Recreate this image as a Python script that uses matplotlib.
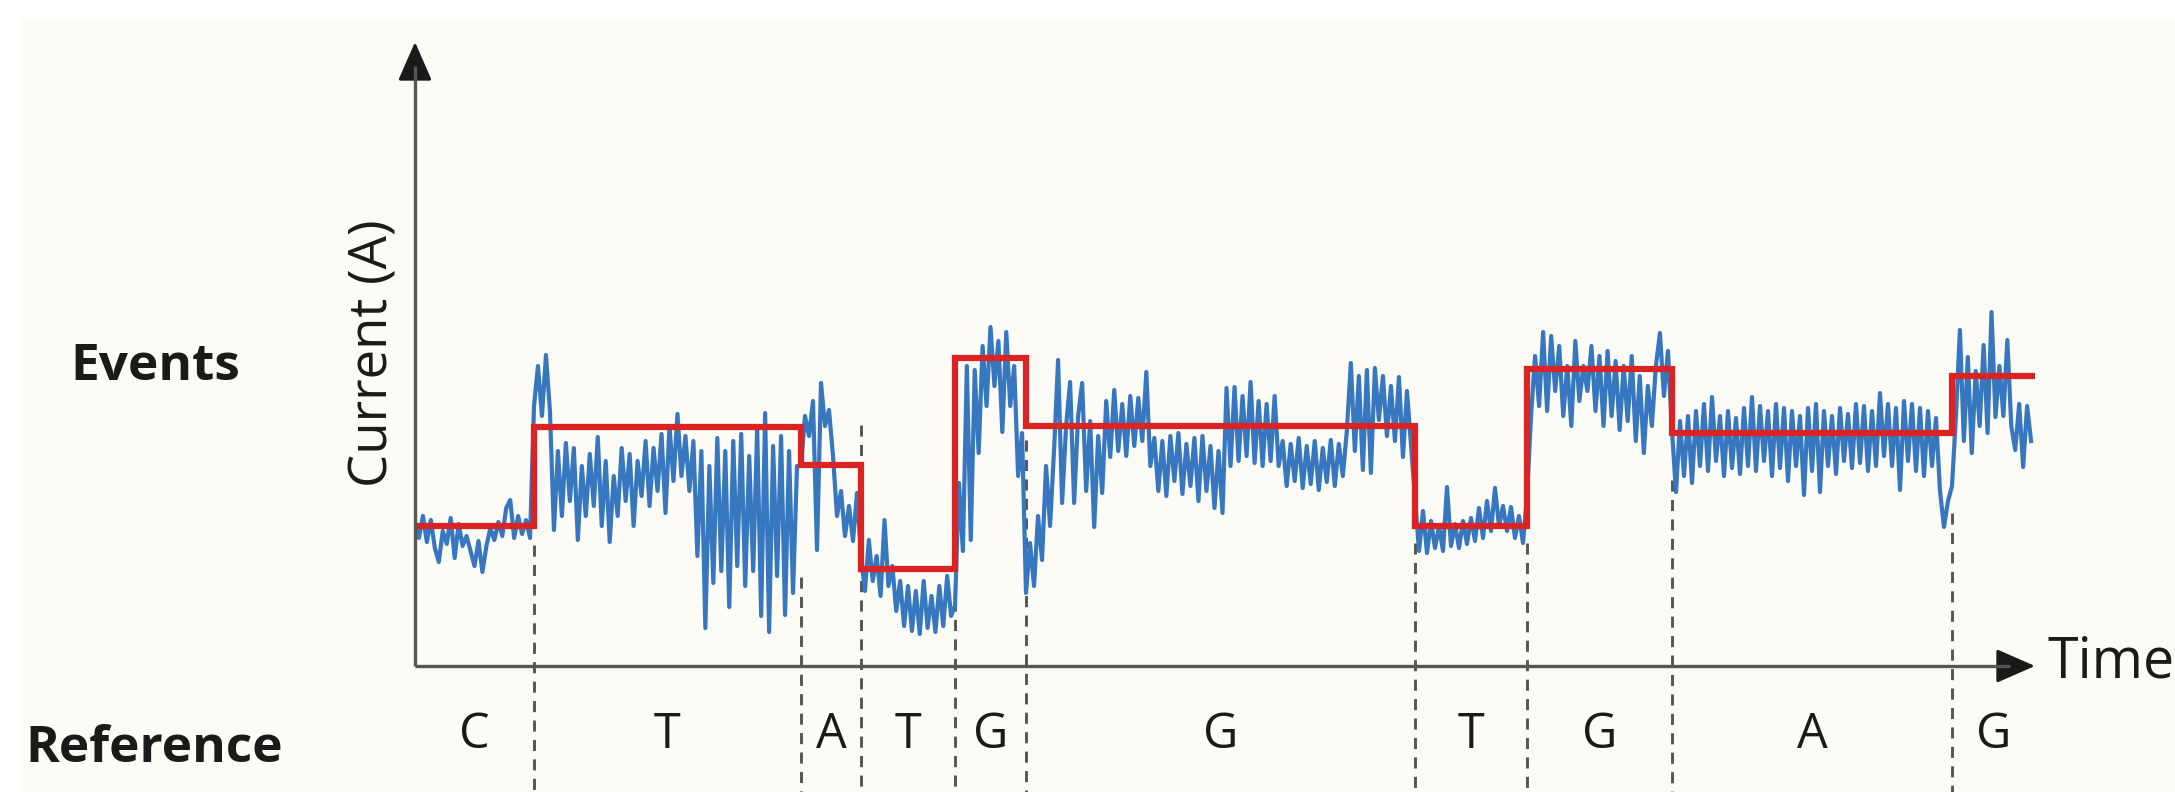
import matplotlib
matplotlib.use('Agg')
import matplotlib.pyplot as plt
from matplotlib.patches import Rectangle
import numpy as np

plt.rcParams['font.family'] = ['Open Sans', 'DejaVu Sans']
plt.rcParams['lines.scale_dashes'] = False

# Bases da referência e limites dos eventos (eixo do tempo)
bases = ['C', 'T', 'A', 'T', 'G', 'G', 'T', 'G', 'A', 'G']
limites = [0, 119, 386, 446, 540, 611, 1000, 1112, 1257, 1537, 1620]
# Nível médio de cada evento (linha vermelha)
niveis = [140, 239, 201, 97, 308, 240, 140, 297, 233, 290]
# Altura onde começa cada linha tracejada (limites internos)
topo_tracejado = [121, 89, 241, 66, 226, 123, 123, 186, 153]

# Sinal bruto, um trecho por evento
sig_C = [140, 128, 150, 124, 146, 118, 104, 135, 122, 148,
         108, 142, 120, 130, 115, 100, 125, 94, 120, 138,
         126, 144, 130, 158, 166, 128, 150, 132, 146, 128]
sig_T1 = [260, 300, 250, 311, 255, 136, 215, 150, 223, 165,
          218, 126, 200, 150, 212, 160, 229, 140, 205, 124,
          190, 150, 218, 165, 212, 140, 205, 170, 225, 160,
          218, 175, 232, 153, 240, 185, 252, 190, 230, 175,
          225, 110, 215, 38, 200, 83, 228, 95, 215, 59,
          225, 100, 232, 80, 210, 95, 238, 50, 253, 34,
          220, 90, 230, 51, 215, 73, 200]
sig_A1 = [200, 250, 230, 265, 116, 283, 240, 256, 210, 150, 175, 130, 160, 125, 173]
sig_T2 = [110, 75, 126, 85, 110, 70, 146, 80, 100, 55,
          85, 40, 80, 35, 75, 32, 85, 38, 70, 34,
          80, 40, 90, 50]
sig_G1 = [60, 183, 115, 300, 126, 296, 213, 320, 260, 339,
          280, 325, 234, 334, 260, 300, 190, 233]
sig_G2 = [73, 123, 80, 150, 106, 200, 140, 216, 306, 163,
          240, 284, 163, 250, 283, 175, 245, 139, 230, 173,
          265, 209, 276, 215, 262, 210, 270, 220, 268, 225,
          294, 200, 228, 175, 225, 170, 230, 185, 233, 172,
          222, 180, 228, 165, 230, 175, 220, 158, 215, 153,
          278, 200, 279, 205, 270, 210, 284, 203, 265, 200,
          262, 205, 270, 200, 225, 180, 222, 185, 228, 178,
          220, 182, 225, 176, 218, 184, 226, 180, 222, 190,
          235, 303, 215, 290, 196, 296, 193, 298, 246, 290,
          230, 280, 225, 289, 209, 275, 222]
sig_T3 = [169, 115, 155, 113, 145, 118, 140, 115, 179, 120,
          142, 118, 145, 122, 148, 125, 158, 128, 165, 135,
          178, 140, 160, 135, 159, 128, 150, 123]
sig_G3 = [170, 250, 310, 260, 334, 255, 330, 275, 320, 250,
          300, 240, 325, 265, 300, 275, 320, 255, 310, 240,
          315, 250, 305, 236, 300, 245, 310, 225, 290, 213,
          280, 240, 300, 333, 270, 315]
sig_A2 = [235, 174, 245, 190, 250, 183, 255, 200, 262, 195,
          269, 205, 250, 190, 255, 198, 248, 192, 258, 200,
          269, 195, 260, 205, 255, 190, 262, 198, 258, 185,
          255, 200, 250, 171, 258, 195, 262, 174, 255, 200,
          250, 192, 258, 205, 252, 198, 262, 203, 260, 195,
          255, 200, 273, 210, 262, 200, 258, 176, 265, 205,
          262, 195, 258, 190, 255, 200, 248, 175, 139, 165]
sig_G4 = [180, 250, 336, 225, 309, 213, 295, 240, 321, 233,
          354, 249, 300, 250, 326, 240, 216, 262, 199, 260, 225]

trechos = [sig_C, sig_T1, sig_A1, sig_T2, sig_G1, sig_G2, sig_T3, sig_G3, sig_A2, sig_G4]

W, H = 2175, 792
fig = plt.figure(figsize=(W / 100, H / 100), dpi=100, facecolor='white')
# Fundo creme (com faixa branca no topo e à esquerda)
fig.patches.append(Rectangle((20 / W, 0), 1, 1 - 18 / H, transform=fig.transFigure,
                             facecolor='#FCFBF6', edgecolor='none', zorder=-10))

ax = fig.add_axes([415 / W, 126 / H, 1620 / W, 624 / H])
ax.set_xlim(0, 1620)
ax.set_ylim(0, 624)
ax.axis('off')

azul = '#3777BF'
vermelho = '#DA2323'

# Sinal
xs, ys = [], []
for i, vals in enumerate(trechos):
    xs.append(np.linspace(limites[i], limites[i + 1], len(vals), endpoint=False))
    ys.append(vals)
x = np.concatenate(xs)
y = np.concatenate(ys)
ax.plot(x, y, color=azul, lw=3.0, zorder=3)

# Eventos (degraus)
ax.stairs(niveis, limites, baseline=None, color=vermelho, lw=4.5, zorder=4)

# Linhas tracejadas entre as bases
for xb, yt in zip(limites[1:-1], topo_tracejado):
    ax.plot([xb, xb], [yt, -140], color='#555555', lw=2.1, dashes=(8, 6),
            clip_on=False, zorder=2)

# Eixos com setas
cinza = '#555555'
ax.plot([0, 0], [0, 600], color=cinza, lw=2.4, clip_on=False, zorder=5,
        solid_capstyle='butt')
ax.plot([0, 1595], [0, 0], color=cinza, lw=2.4, clip_on=False, zorder=5,
        solid_capstyle='butt')
seta = dict(arrowstyle='-|>,head_length=2.4,head_width=1.05', mutation_scale=10,
            lw=2.2, color='#1A1A1A', shrinkA=0, shrinkB=0)
ax.annotate('', xy=(0, 624), xytext=(0, 595), arrowprops=seta, annotation_clip=False)
ax.annotate('', xy=(1620, 0), xytext=(1590, 0), arrowprops=seta, annotation_clip=False)

# Letras da referência
for i, b in enumerate(bases):
    ax.text((limites[i] + limites[i + 1]) / 2, -82, b, ha='center', va='baseline',
            fontsize=35, color='#1A1A1A')

cor_txt = '#1A1A1A'
fig.text(70 / W, 1 - 380 / H, 'Events', ha='left', va='baseline', fontsize=37,
         fontweight='bold', color=cor_txt)
fig.text(25 / W, 1 - 762 / H, 'Reference', ha='left', va='baseline', fontsize=37,
         fontweight='bold', color=cor_txt)
fig.text(388 / W, 1 - 353 / H, 'Current (A)', rotation=90, rotation_mode='anchor',
         ha='center', va='baseline', fontsize=38, color=cor_txt)
fig.text(2047 / W, 1 - 678 / H, 'Time', ha='left', va='baseline', fontsize=40,
         color=cor_txt)

fig.savefig('out.png', dpi=100, facecolor=fig.get_facecolor())
